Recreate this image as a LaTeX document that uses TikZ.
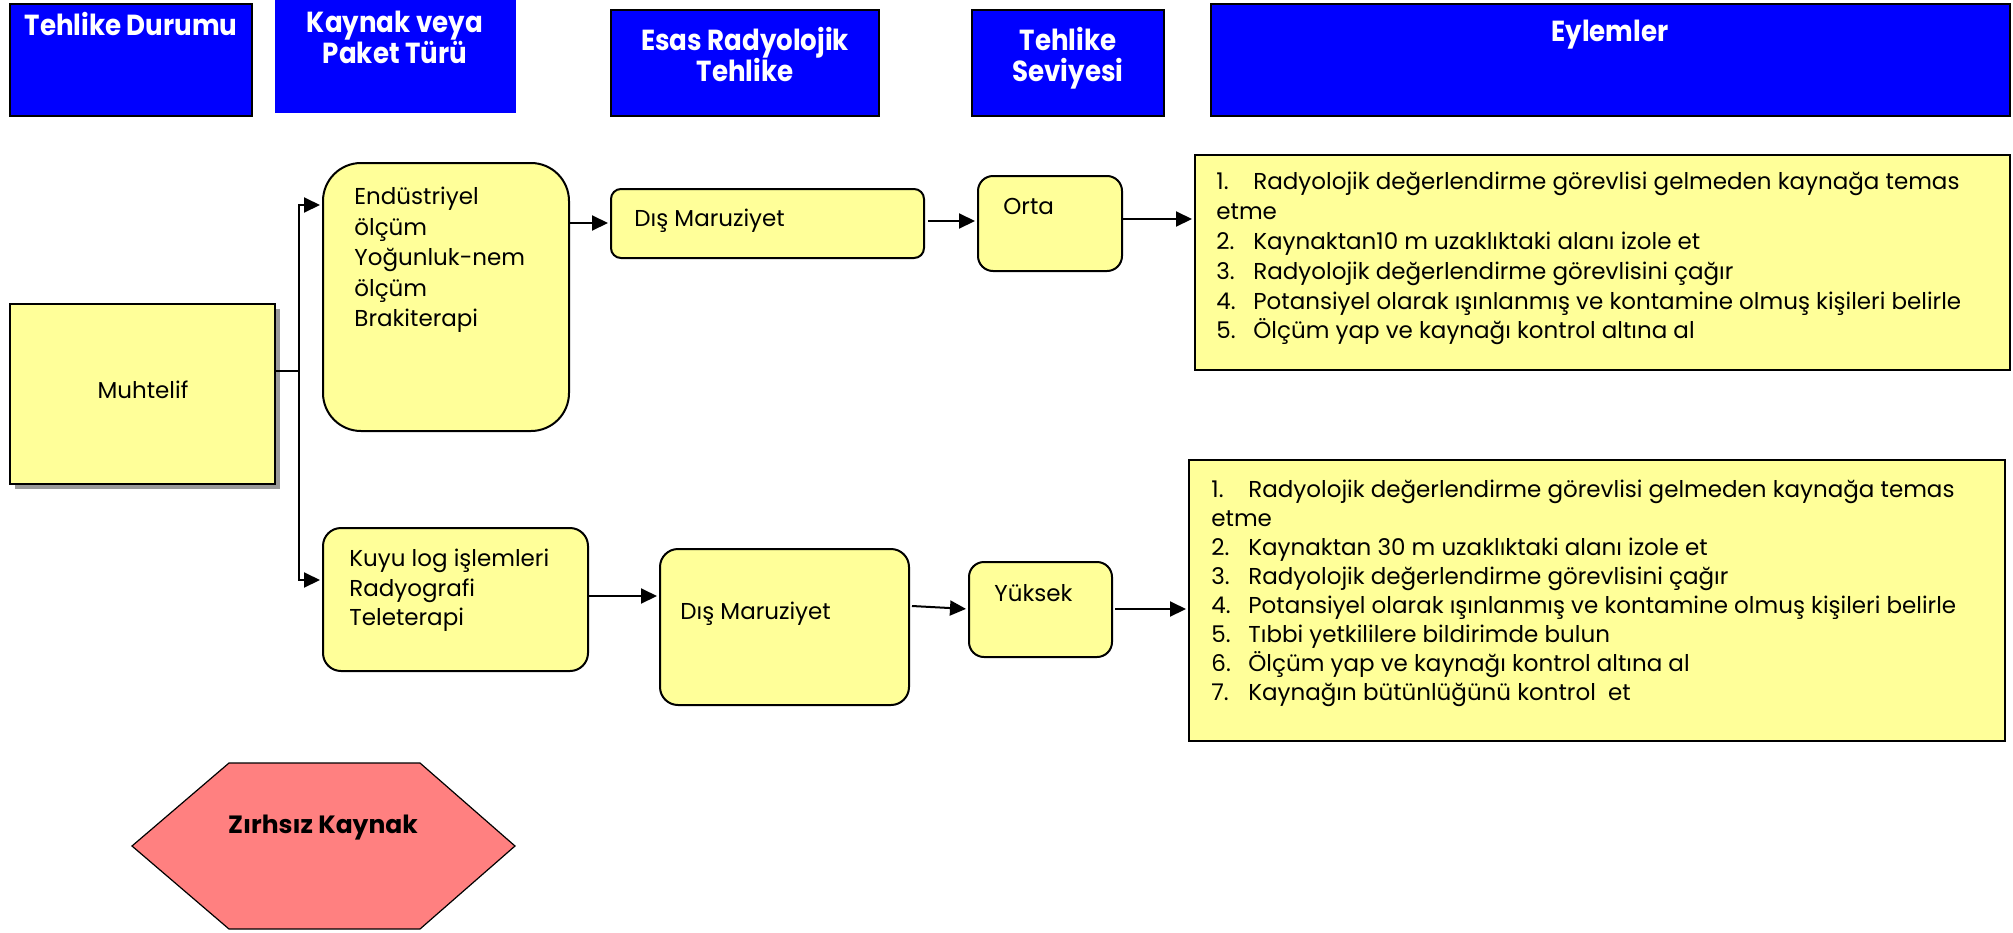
\documentclass[tikz,border=0pt]{standalone}
\usepackage{fontspec}
\setmainfont{Poppins}
\newfontfamily\hdrfont{Poppins}[FakeStretch=0.9]
\usetikzlibrary{arrows.meta,fit,shadows}
\definecolor{hblue}{RGB}{0,0,255}
\definecolor{ylw}{RGB}{255,255,153}
\definecolor{hexred}{RGB}{255,128,128}
\newcommand{\itm}[1]{\makebox[18.5pt][l]{#1.}}
\tikzset{
  hdr/.style={fill=hblue, draw=black, line width=1pt, inner sep=0pt},
  htxt/.style={font=\hdrfont\bfseries\fontsize{14.5pt}{15.5pt}\selectfont, text=white, align=center, anchor=north, inner sep=0pt},
  ybox/.style={fill=ylw, draw=black, line width=1pt, inner sep=0pt},
  btxt/.style={font=\fontsize{11.5pt}{14.9pt}\selectfont, align=left, anchor=north west, inner sep=0pt},
  ln/.style={line width=1pt},
  arr/.style={line width=1pt, -{Triangle[length=8pt,width=7.5pt]}, shorten >=1pt},
}
\begin{document}
\begin{tikzpicture}[x=0.5pt,y=-0.5pt]
\useasboundingbox (0,0) rectangle (2013,932);
% headers
\node[hdr, fit={(10,4) (252,116)}] (h1) {};
\node[hdr, draw=none, fit={(275,0) (516,113)}] (h2) {};
\node[hdr, fit={(611,10) (879,116)}] (h3) {};
\node[hdr, fit={(972,10) (1164,116)}] (h4) {};
\node[hdr, fit={(1211,4) (2010,116)}] (h5) {};
\node[htxt] (h1t) at (131,12) {Tehlike Durumu};
\node[htxt] (h2t) at (395,11) {Kaynak veya\\Paket Türü};
\node[htxt] (h3t) at (745,27) {Esas Radyolojik\\Tehlike};
\node[htxt] (h4t) at (1068,27) {Tehlike\\Seviyesi};
\node[htxt] (h5t) at (1610,20) {Eylemler};
% boxes
\node[ybox, drop shadow={shadow xshift=2.5pt, shadow yshift=-2.5pt, fill=gray!80, opacity=1}, fit={(10,304) (275,484)}] (muh) {};
\node[btxt, anchor=center] (muht) at (143,390) {Muhtelif};
\node[ybox, rounded corners=19pt, fit={(323,163) (569,431)}] (endu) {};
\node[btxt, font=\fontsize{11.5pt}{15.25pt}\selectfont] (endut) at (354,187) {Endüstriyel\\ölçüm\\Yoğunluk-nem\\ölçüm\\Brakiterapi};
\node[ybox, rounded corners=5pt, fit={(611,189) (924,258)}] (dis1) {};
\node[btxt] (dis1t) at (634,209) {Dış Maruziyet};
\node[ybox, rounded corners=7.5pt, fit={(978,176) (1122,271)}] (orta) {};
\node[btxt] (ortat) at (1003,198) {Orta};
\node[ybox, fit={(1195,155) (2010,370)}] (act1) {};
\node[btxt] (act1t) at (1216,172) {\itm{1}Radyolojik değerlendirme görevlisi gelmeden kaynağa temas\\etme\\\itm{2}Kaynaktan10 m uzaklıktaki alanı izole et\\\itm{3}Radyolojik değerlendirme görevlisini çağır\\\itm{4}Potansiyel olarak ışınlanmış ve kontamine olmuş kişileri belirle\\\itm{5}Ölçüm yap ve kaynağı kontrol altına al};
\node[ybox, rounded corners=9pt, fit={(323,528) (588,671)}] (kuyu) {};
\node[btxt, font=\fontsize{11.5pt}{14.75pt}\selectfont] (kuyut) at (349,549) {Kuyu log işlemleri\\Radyografi\\Teleterapi};
\node[ybox, rounded corners=9pt, fit={(660,549) (909,705)}] (dis2) {};
\node[btxt] (dis2t) at (680,602) {Dış Maruziyet};
\node[ybox, rounded corners=7.5pt, fit={(969,562) (1112,657)}] (yuk) {};
\node[btxt] (yukt) at (994,584) {Yüksek};
\node[ybox, fit={(1189,460) (2005,741)}] (act2) {};
\node[btxt, font=\fontsize{11.5pt}{14.5pt}\selectfont] (act2t) at (1211,480) {\itm{1}Radyolojik değerlendirme görevlisi gelmeden kaynağa temas\\etme\\\itm{2}Kaynaktan 30 m uzaklıktaki alanı izole et\\\itm{3}Radyolojik değerlendirme görevlisini çağır\\\itm{4}Potansiyel olarak ışınlanmış ve kontamine olmuş kişileri belirle\\\itm{5}Tıbbi yetkililere bildirimde bulun\\\itm{6}Ölçüm yap ve kaynağı kontrol altına al\\\itm{7}Kaynağın bütünlüğünü kontrol\ \ et};
% hexagon
\draw[fill=hexred, draw=black, line width=0.6pt] (132,846) -- (229,763) -- (420,763) -- (515,846) -- (420,929) -- (229,929) -- cycle;
\node[font=\bfseries\fontsize{12.5pt}{15pt}\selectfont, inner sep=0pt] (zk) at (323,828) {Zırhsız Kaynak};
% connectors
\coordinate (jn) at (299,371);
\coordinate (jt) at (299,205);
\coordinate (jb) at (299,580);
\draw[ln] (muh.east |- jn) -- (jn);
\draw[arr] (jn) -- (jt) -- (endu.west |- jt);
\draw[arr] (jn) -- (jb) -- (kuyu.west |- jb);
\draw[arr] (endu.east |- 0,223) -- (dis1.west |- 0,223);
\draw[arr] ([xshift=1.5pt]dis1.east |- 0,221) -- (orta.west |- 0,221);
\draw[arr] (orta.east |- 0,219) -- (act1.west |- 0,219);
\draw[arr] (kuyu.east |- 0,596) -- (dis2.west |- 0,596);
\draw[arr] ([xshift=1pt]dis2.east |- 0,606) -- (yuk.west |- 0,609);
\draw[arr] ([xshift=1pt]yuk.east |- 0,609) -- (act2.west |- 0,609);
\end{tikzpicture}
\end{document}
